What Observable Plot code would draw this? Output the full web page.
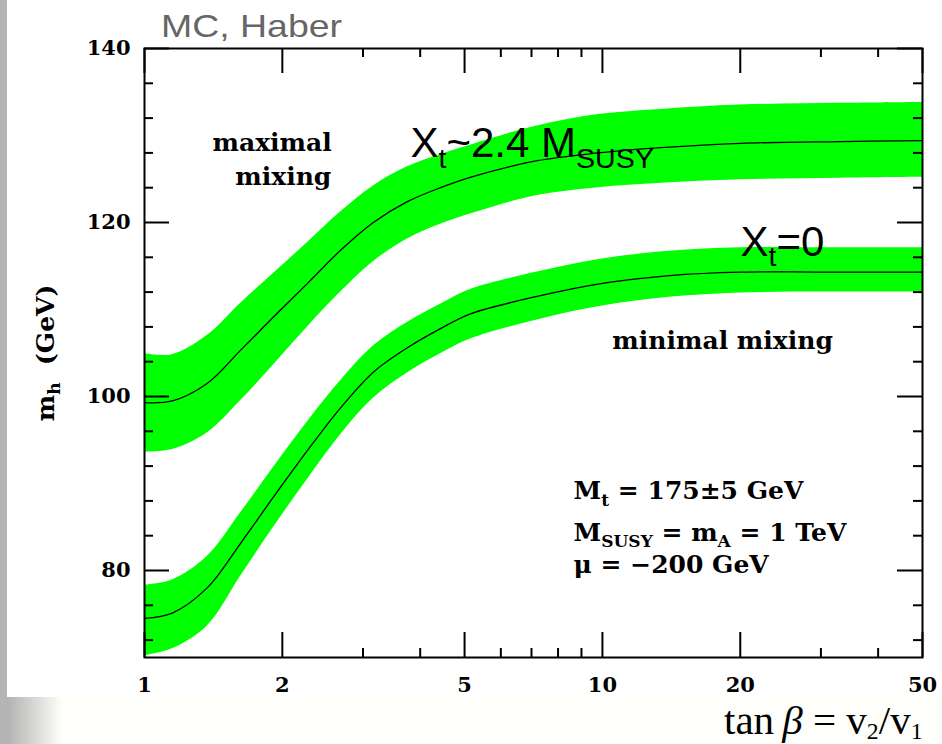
<!DOCTYPE html>
<html><head><meta charset="utf-8">
<script src="https://cdn.jsdelivr.net/npm/d3@7"></script>
<script src="https://cdn.jsdelivr.net/npm/@observablehq/plot@0.6"></script>
<style>
html,body{margin:0;padding:0;}
body{width:942px;height:744px;position:relative;overflow:hidden;background:linear-gradient(to right,#b3b3b3 0px,#b3b3b3 8px,#fefefa 62px);}
#strip{position:absolute;left:0;top:0;width:7px;height:744px;background:#b4b4b4;}
#panel{position:absolute;left:7px;top:0;width:935px;height:697px;background:#fff;}
#chart{position:absolute;left:0;top:0;}
#title{position:absolute;left:161px;top:10px;font-family:"Liberation Sans",Arial,sans-serif;font-size:32px;color:#666;line-height:32px;transform:scaleX(1.17);transform-origin:left top;white-space:nowrap;}
#xlabel{position:absolute;left:724px;top:700px;font-family:"Liberation Serif","Times New Roman",serif;font-size:41px;line-height:41px;white-space:nowrap;color:#000;}
#xlabel sub{font-size:58%;vertical-align:-0.2em;line-height:0;}
</style></head>
<body>
<div id="strip"></div><div id="panel"></div>
<div id="chart"></div>
<div id="title">MC, Haber</div>
<div id="xlabel">tan&#8201;<i>β</i> = v<sub>2</sub>/v<sub>1</sub></div>
<script>
// ---- data (tan beta, m_h in GeV) ----
const maxX   = [1, 1.15, 1.37, 1.62, 1.91, 2.27, 2.68, 3.16, 3.75, 4.43, 5.23, 7.2, 9.8, 13.4, 20, 33, 50];
const maxMid = [99.3, 99.5, 101.5, 105.3, 109.1, 113.0, 116.8, 120.0, 122.4, 124.0, 125.3, 127.1, 128.0, 128.6, 129.1, 129.3, 129.4];
const maxLo  = [93.6, 93.9, 95.8, 99.5, 103.6, 108.0, 112.0, 115.5, 118.1, 119.8, 121.1, 123.1, 124.0, 124.5, 124.9, 125.1, 125.2];
const maxHi  = [104.9, 104.8, 107.0, 110.7, 114.1, 117.7, 121.2, 124.2, 126.4, 127.8, 129.0, 131.1, 132.4, 133.0, 133.5, 133.7, 133.8];

const minX   = [1, 1.15, 1.37, 1.62, 1.91, 2.27, 2.68, 3.16, 3.75, 4.43, 5.15, 7.2, 10, 14, 20, 30, 50];
const minMid = [74.5, 75.1, 78.0, 83.1, 88.4, 93.8, 98.7, 102.8, 105.6, 107.8, 109.5, 111.5, 113.0, 113.9, 114.3, 114.3, 114.3];
const minLo  = [70.2, 71.0, 73.6, 79.3, 84.9, 90.5, 95.6, 99.8, 102.7, 104.9, 106.6, 108.8, 110.4, 111.4, 111.9, 112.0, 112.0];
const minHi  = [78.3, 78.9, 81.6, 86.6, 91.8, 97.1, 101.8, 105.8, 108.5, 110.6, 112.3, 114.3, 115.8, 116.7, 117.1, 117.1, 117.1];

const xMajor = [1, 2, 5, 10, 20, 50];
const xMinor = [3, 4, 6, 7, 8, 9, 30, 40];
const yMajor = [80, 100, 120, 140];
const yMinor = [72, 76, 84, 88, 92, 96, 104, 108, 112, 116, 124, 128, 132, 136];

const yTitle = "m_{h}\u00a0\u00a0(GeV)";
const mixLabels = [
  {x: 1.90, y: 129.1, text: "maximal"},
  {x: 2.01, y: 125.2, text: "mixing"},
  {x: 18.3, y: 106.4, text: "minimal\u00a0mixing"}
];
const paramLabels = [
  {x: 8.65, y: 89.1, text: "M_{t}\u00a0=\u00a0175±5\u00a0GeV"},
  {x: 8.65, y: 84.3, text: "M_{SUSY}\u00a0=\u00a0m_{A}\u00a0=\u00a01\u00a0TeV"},
  {x: 8.65, y: 80.6, text: "μ\u00a0=\u00a0\u2212200\u00a0GeV"}
];
const xtLabels = [
  {x: 3.81, y: 127.5, text: "X_{t}~2.4 M_{SUSY}"},
  {x: 20.03, y: 116.2, text: "X_{t}=0"}
];

const maxData = maxX.map((x, i) => ({x, mid: maxMid[i], lo: maxLo[i], hi: maxHi[i]}));
const minData = minX.map((x, i) => ({x, mid: minMid[i], lo: minLo[i], hi: minHi[i]}));

const W = 942, H = 697, ML = 144, MR = 20, MT = 48, MB = 40;
const FW = W - ML - MR, FH = H - MT - MB;
const BIG = 25, SMALL = 9;
const green = "#00ff00";
const serif = "DejaVu Serif";
const crv = "catmull-rom";

const svg = Plot.plot({
  width: W, height: H,
  marginLeft: ML, marginRight: MR, marginTop: MT, marginBottom: MB,
  style: {background: "transparent", fontFamily: serif, fontSize: "21px", fontWeight: "bold", color: "#000"},
  x: {type: "log", domain: [1, 50]},
  y: {domain: [70, 140]},
  marks: [
    Plot.areaY(maxData, {x: "x", y1: "lo", y2: "hi", fill: green, curve: crv, clip: true}),
    Plot.areaY(minData, {x: "x", y1: "lo", y2: "hi", fill: green, curve: crv, clip: true}),
    Plot.line(maxData, {x: "x", y: "mid", stroke: "#000", strokeWidth: 1.3, curve: crv, clip: true}),
    Plot.line(minData, {x: "x", y: "mid", stroke: "#000", strokeWidth: 1.3, curve: crv, clip: true}),
    // inward ticks, all four sides
    Plot.tickX(xMajor, {x: d => d, insetBottom: FH - BIG, stroke: "#000", strokeWidth: 2}),
    Plot.tickX(xMajor, {x: d => d, insetTop: FH - BIG, stroke: "#000", strokeWidth: 2}),
    Plot.tickX(xMinor, {x: d => d, insetBottom: FH - SMALL, stroke: "#000", strokeWidth: 2}),
    Plot.tickX(xMinor, {x: d => d, insetTop: FH - SMALL, stroke: "#000", strokeWidth: 2}),
    Plot.tickY(yMajor, {y: d => d, insetRight: FW - BIG, stroke: "#000", strokeWidth: 2}),
    Plot.tickY(yMajor, {y: d => d, insetLeft: FW - BIG, stroke: "#000", strokeWidth: 2}),
    Plot.tickY(yMinor, {y: d => d, insetRight: FW - SMALL, stroke: "#000", strokeWidth: 2}),
    Plot.tickY(yMinor, {y: d => d, insetLeft: FW - SMALL, stroke: "#000", strokeWidth: 2}),
    Plot.frame({stroke: "#000", strokeWidth: 2}),
    Plot.axisX({ticks: xMajor, tickSize: 0, tickPadding: 20, tickFormat: d => `${d}`, label: null, fontSize: 21, fontWeight: "bold", fontFamily: serif}),
    Plot.axisY({ticks: yMajor, tickSize: 0, tickPadding: 14, tickFormat: d => `${d}`, label: null, fontSize: 21, fontWeight: "bold", fontFamily: serif}),
    Plot.text([yTitle], {text: d => d, frameAnchor: "left", textAnchor: "middle", dx: -99, rotate: -90, fontSize: 25, fontWeight: "bold", fontFamily: serif}),
    Plot.text(mixLabels, {x: "x", y: "y", text: "text", textAnchor: "middle", fontSize: 25, fontWeight: "bold", fontFamily: serif}),
    Plot.text(paramLabels, {x: "x", y: "y", text: "text", textAnchor: "start", fontSize: 25, fontWeight: "bold", fontFamily: serif}),
    Plot.text(xtLabels, {x: "x", y: "y", text: "text", textAnchor: "start", lineAnchor: "bottom", fontSize: 42, fontWeight: "normal", fontFamily: "Liberation Sans"})
  ]
});

// turn _{...} into real subscripts
function richify(root) {
  const NS = "http://www.w3.org/2000/svg";
  root.querySelectorAll("text").forEach(t => {
    const s = t.textContent;
    if (!s.includes("_{")) return;
    t.textContent = "";
    const parts = s.split(/(_\{[^}]*\})/);
    let sub = false;
    for (const p of parts) {
      if (!p) continue;
      const ts = document.createElementNS(NS, "tspan");
      if (p.startsWith("_{")) {
        ts.textContent = p.slice(2, -1);
        ts.setAttribute("font-size", "68%");
        ts.setAttribute("dy", sub ? "0em" : "0.37em");
        sub = true;
      } else {
        ts.textContent = p;
        if (sub) { ts.setAttribute("dy", "-0.25em"); sub = false; }
      }
      t.appendChild(ts);
    }
  });
}
richify(svg);
document.getElementById("chart").appendChild(svg);
</script>
</body></html>
